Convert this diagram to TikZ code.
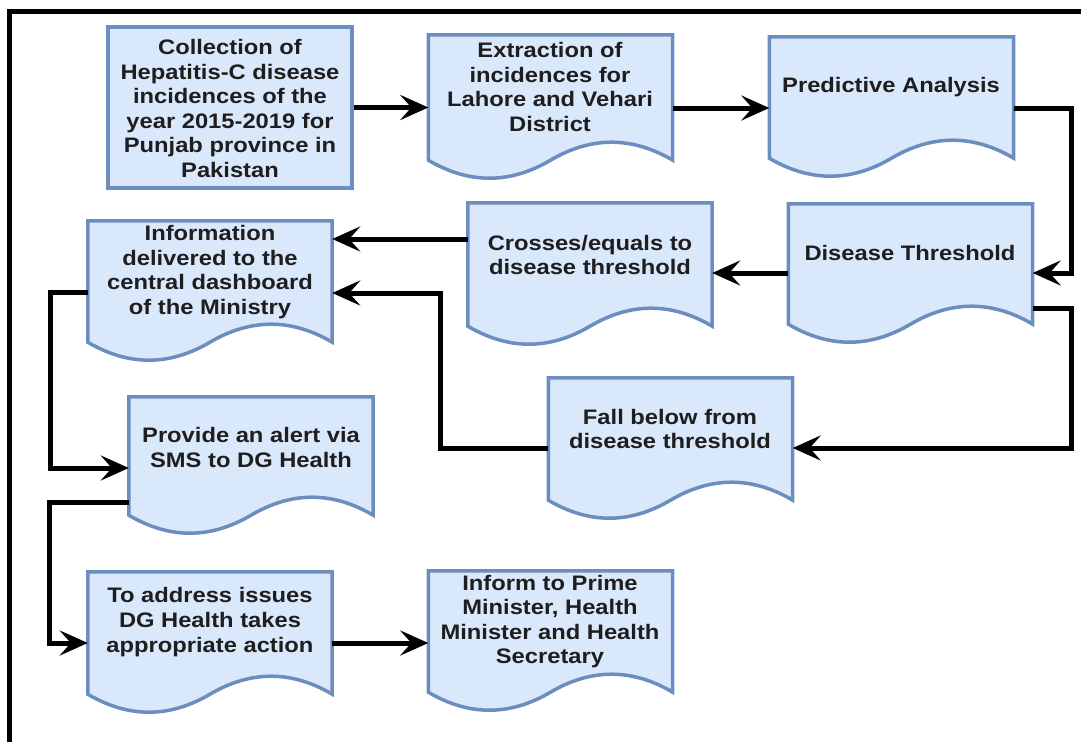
\documentclass[tikz,border=0pt]{standalone}
\usepackage{fontspec}
\newfontfamily\boxfont[FakeStretch=1.13]{Liberation Sans}
\usetikzlibrary{arrows.meta,calc,backgrounds}
\definecolor{docfill}{HTML}{DAE8FC}
\definecolor{docline}{HTML}{6C8EBF}
\definecolor{ink}{HTML}{1E1E1E}

\tikzset{
  boxarea/.style={inner sep=0pt, minimum width=244pt},
  boxline/.style={draw=docline, fill=docfill, line width=3.5pt, line join=miter},
  caption/.style={font=\boxfont\bfseries\fontsize{21}{24.6}\selectfont, text=ink, align=center, inner sep=0pt},
  conn/.style={draw=black, line width=5pt, -{Stealth[length=28pt,width=25pt,inset=11pt]}},
  frameline/.style={line width=5pt}
}

% document shape: flat top, wavy bottom hanging from the node's south side
\newcommand\docoutline[1]{%
  \path[boxline] let \p1=(#1.south west), \p2=(#1.south east), \n1={(\x2-\x1)/6} in
    (#1.north west) -- (#1.north east) -- (#1.south east)
    .. controls +(-\n1,-24) and +(\n1,-24) .. (#1.south)
    .. controls +(-\n1,24) and +(\n1,24) .. (#1.south west) -- cycle;}

\begin{document}
\begin{tikzpicture}[x=1pt,y=-1pt]
\path[use as bounding box] (0,0) rectangle (1081,742);

% areas of the document boxes (outlines drawn on the background layer)
\node[boxarea, boxline, minimum height=161pt] (collect) at (230,107.5) {};
\node[boxarea, minimum height=125pt] (extr)   at (550.5,97.5) {};
\node[boxarea, minimum height=121pt] (pred)   at (891.5,97.5) {};
\node[boxarea, minimum height=120pt] (thr)    at (910.5,264) {};
\node[boxarea, minimum height=123pt] (cross)  at (590,264.5) {};
\node[boxarea, minimum height=121pt] (info)   at (210,281.5) {};
\node[boxarea, minimum height=118pt] (prov)   at (251,456) {};
\node[boxarea, minimum height=122pt] (fall)   at (670.5,439) {};
\node[boxarea, minimum height=122pt] (addr)   at (210,633) {};
\node[boxarea, minimum height=121pt] (inform) at (550.5,631.5) {};

\begin{scope}[on background layer]
  \fill[white] (0,0) rectangle (1081,742);
  \foreach \bx in {extr,pred,thr,cross,info,prov,fall,addr,inform}{\docoutline{\bx}}
\end{scope}

% frame
\draw[frameline] (7,11.5) -- (1081,11.5);
\draw[frameline] (9.5,9) -- (9.5,742);

% captions
\node[caption] (collect-t) at (230,108.5) {Collection of\\Hepatitis-C disease\\incidences of the\\year 2015-2019 for\\Punjab province in\\Pakistan};
\node[caption] (extr-t)   at (550,87)    {Extraction of\\incidences for\\Lahore and Vehari\\District};
\node[caption] (pred-t)   at (891,87)    {Predictive Analysis};
\node[caption] (thr-t)    at (910,253)   {Disease Threshold};
\node[caption] (cross-t)  at (590,255)   {Crosses/equals to\\disease threshold};
\node[caption] (info-t)   at (210,272)   {Information\\delivered to the\\central dashboard\\of the Ministry};
\node[caption] (prov-t)   at (251,447.5) {Provide an alert via\\SMS to DG Health};
\node[caption] (fall-t)   at (670,429)   {Fall below from\\disease threshold};
\node[caption] (addr-t)   at (210,622)   {To address issues\\DG Health takes\\appropriate action};
\node[caption] (inform-t) at (550,621.5) {Inform to Prime\\Minister, Health\\Minister and Health\\Secretary};

% connectors
\draw[conn] (collect.east) -- (collect.east -| extr.west);
\draw[conn] ([yshift=-10.5pt]extr.east) -- ([yshift=-10.5pt]extr.east -| pred.west);
\draw[conn] ([yshift=-10.5pt]pred.east) -- ++(58,0) |- ([yshift=-9pt]thr.east);
\draw[conn] ([yshift=-9pt]thr.west) -- ([yshift=-9pt]thr.west -| cross.east);
\draw[conn] ([yshift=-44pt]thr.east) -- ++(39,0) |- ([yshift=-9pt]fall.east);
\draw[conn] ([yshift=25.5pt]cross.west) -- ([yshift=25.5pt]cross.west -| info.east);
\draw[conn] ([yshift=-9pt]fall.west) -- ++(-108,0) |- ([yshift=-11.5pt]info.east);
\draw[conn] ([yshift=-10.5pt]info.west) -- ++(-37,0) |- ([yshift=-12pt]prov.west);
\draw[conn] ([yshift=-46pt]prov.west) -- ++(-79,0) |- ([yshift=-10pt]addr.west);
\draw[conn] ([yshift=-10pt]addr.east) -- ([yshift=-10pt]addr.east -| inform.west);
\end{tikzpicture}
\end{document}
